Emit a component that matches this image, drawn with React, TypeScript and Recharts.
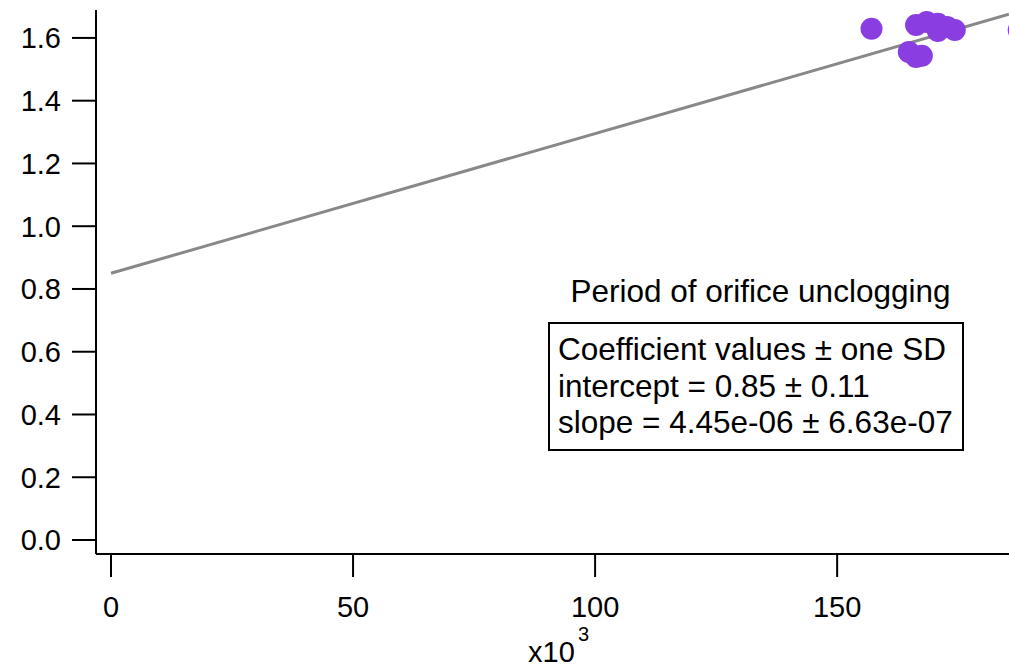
import { ScatterChart, Scatter, XAxis, YAxis, ReferenceLine, Label } from 'recharts'

// orifice unclogging periods (x in raw units, axis shows x10^3)
const periodX = [157100, 164800, 166300, 167500, 166300, 168500, 170800, 172700, 174300, 170800, 187500]
const periodY = [1.629, 1.555, 1.539, 1.543, 1.641, 1.651, 1.645, 1.635, 1.625, 1.622, 1.625]

// linear fit coefficients
const intercept = 0.85
const slope = 4.45e-6
const fitEnd = 185500

const xTicks = [0, 50000, 100000, 150000]
const yTicks = [0, 0.2, 0.4, 0.6, 0.8, 1.0, 1.2, 1.4, 1.6]

const points = periodX.map((x, i) => ({ x, y: periodY[i] }))

const FONT = '"Liberation Sans", Arial, sans-serif'
const PURPLE = '#8a3ee2'

const XUnitLabel = () => {
  return (
    <text x={528} y={662} fontSize={29} fontFamily={FONT} fill="#000">
      x10
      <tspan x={578} y={641} fontSize={20}>3</tspan>
    </text>
  )
}

export default function App() {
  return (
    <div style={{ position: 'absolute', left: 0, top: 0, width: 1009, height: 667, background: '#fff' }}>
      <ScatterChart width={1009} height={667} margin={{ top: 10, right: 0, left: 0, bottom: 0 }}>
        <XAxis
          type="number"
          dataKey="x"
          domain={[-3100, 185500]}
          allowDataOverflow
          ticks={xTicks}
          tickFormatter={v => `${v / 1000}`}
          height={113}
          tickSize={23}
          tickMargin={19}
          stroke="#000"
          strokeWidth={2}
          tick={{ fill: '#000', fontSize: 29, fontFamily: FONT }}
        >
          <Label content={<XUnitLabel />} />
        </XAxis>
        <YAxis
          type="number"
          dataKey="y"
          domain={[-0.0446, 1.689]}
          allowDataOverflow
          ticks={yTicks}
          tickFormatter={v => v.toFixed(1)}
          width={96}
          tickSize={24}
          tickMargin={11}
          stroke="#000"
          strokeWidth={2}
          tick={{ fill: '#000', fontSize: 29, fontFamily: FONT }}
        />
        <Scatter
          data={points}
          isAnimationActive={false}
          shape={(p: any) => <circle cx={p.cx} cy={p.cy} r={11} fill={PURPLE} />}
        />
        <ReferenceLine
          segment={[
            { x: 0, y: intercept },
            { x: fitEnd, y: intercept + slope * fitEnd },
          ]}
          stroke="#888"
          strokeWidth={3}
          ifOverflow="visible"
        />
      </ScatterChart>
      <svg
        width={1009}
        height={667}
        style={{ position: 'absolute', left: 0, top: 0, pointerEvents: 'none' }}
        fontFamily={FONT}
      >
        <text x={760.5} y={302} fontSize={31.5} textAnchor="middle" fill="#000">
          Period of orifice unclogging
        </text>
        <rect x={549} y={323} width={414} height={127} fill="#fff" stroke="#000" strokeWidth={2} />
        <text x={558} y={360} fontSize={31.5} fill="#000">Coefficient values ± one SD</text>
        <text x={558} y={397} fontSize={31.5} fill="#000">{`intercept = ${intercept} ± 0.11`}</text>
        <text x={558} y={433} fontSize={31.5} fill="#000">slope = 4.45e-06 ± 6.63e-07</text>
      </svg>
    </div>
  )
}
